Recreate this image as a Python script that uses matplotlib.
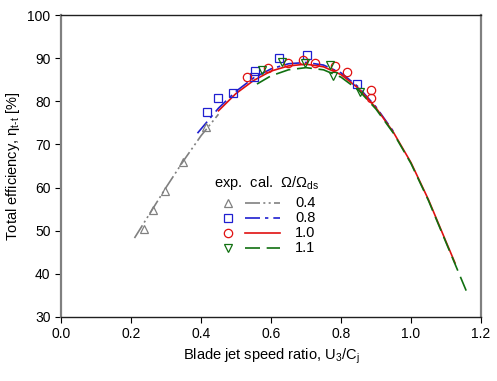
import matplotlib.pyplot as plt

plt.rcParams['font.family'] = ['Liberation Sans', 'DejaVu Sans']
plt.rcParams['mathtext.fontset'] = 'custom'
plt.rcParams['mathtext.rm'] = 'Liberation Sans'
plt.rcParams['mathtext.it'] = 'Liberation Sans'

## Experimental points
exp04_x = [0.237, 0.263, 0.297, 0.349, 0.414]
exp04_y = [50.4, 54.8, 59.2, 65.9, 74.0]

exp08_x = [0.417, 0.449, 0.491, 0.551, 0.554, 0.623, 0.703, 0.846]
exp08_y = [77.5, 80.8, 81.9, 85.6, 87.0, 90.0, 90.8, 84.0]

exp10_x = [0.531, 0.591, 0.649, 0.691, 0.726, 0.783, 0.817, 0.886, 0.886]
exp10_y = [85.6, 87.7, 88.9, 89.6, 88.9, 88.2, 86.8, 82.6, 80.8]

exp11_x = [0.574, 0.631, 0.697, 0.769, 0.777, 0.854]
exp11_y = [87.2, 89.1, 88.9, 88.4, 85.9, 82.2]

## Calculated curves
cal04_x = [0.21, 0.25, 0.30, 0.35, 0.40, 0.45]
cal04_y = [48.3, 53.5, 60.0, 66.2, 72.0, 77.0]

cal08_x = [0.39, 0.45, 0.50, 0.55, 0.60, 0.65, 0.70, 0.75, 0.80, 0.85, 0.90, 0.95]
cal08_y = [72.6, 78.4, 82.3, 85.4, 87.5, 88.7, 89.0, 88.4, 86.6, 83.3, 78.7, 73.0]

cal10_x = [0.45, 0.50, 0.55, 0.60, 0.65, 0.70, 0.75, 0.80, 0.85, 0.90, 0.95, 1.00, 1.05, 1.10, 1.126]
cal10_y = [77.8, 81.8, 84.8, 87.0, 88.2, 88.6, 88.0, 86.2, 83.0, 78.5, 72.8, 65.8, 57.2, 47.5, 42.5]

cal11_x = [0.56, 0.60, 0.65, 0.70, 0.75, 0.80, 0.85, 0.90, 0.95, 1.00, 1.05, 1.10, 1.163]
cal11_y = [84.0, 85.9, 87.3, 87.8, 87.3, 85.6, 82.6, 78.2, 72.6, 65.6, 57.0, 47.3, 35.1]

labels = ['0.4', '0.8', '1.0', '1.1']
colors = ['#808080', '#1f1fd0', '#e01010', '#107010']
markers = ['^', 's', 'o', 'v']
styles = [(0, (9, 2, 1.2, 2, 1.2, 2)), (0, (9, 3, 2, 3)), '-', (0, (9, 4))]

fig = plt.figure(figsize=(4.97, 3.81), dpi=100)
ax = fig.add_axes([0.1227, 0.168, 0.845, 0.7926])

exps = [(exp04_x, exp04_y), (exp08_x, exp08_y), (exp10_x, exp10_y), (exp11_x, exp11_y)]
cals = [(cal04_x, cal04_y), (cal08_x, cal08_y), (cal10_x, cal10_y), (cal11_x, cal11_y)]

for (cx, cy), c, ls in zip(cals, colors, styles):
    ax.plot(cx, cy, color=c, linestyle=ls, lw=1.2)
for (ex, ey), c, m in zip(exps, colors, markers):
    ax.plot(ex, ey, linestyle='none', marker=m, markersize=6, mfc='none', mec=c, mew=0.9)

# hand-made legend
ax.text(0.364, 0.444, r'exp.  cal.  $\Omega/\Omega_{\rm ds}$', transform=ax.transAxes,
        fontsize=10.5, va='center')
rows = [0.377, 0.328, 0.278, 0.228]
for yy, lab, c, m, ls in zip(rows, labels, colors, markers, styles):
    ax.plot([0.398], [yy], transform=ax.transAxes, marker=m, markersize=6,
            mfc='none', mec=c, mew=0.9, linestyle='none')
    ax.plot([0.438, 0.521], [yy, yy], transform=ax.transAxes, color=c,
            linestyle=ls, lw=1.2)
    ax.text(0.557, yy, lab, transform=ax.transAxes, fontsize=10.5, va='center')

ax.set_xlim(0, 1.2)
ax.set_ylim(30, 100)
ax.set_xticks([0.0, 0.2, 0.4, 0.6, 0.8, 1.0, 1.2])
ax.set_xticklabels(['0.0', '0.2', '0.4', '0.6', '0.8', '1.0', '1.2'])
ax.set_yticks(range(30, 101, 10))
ax.tick_params(direction='out', labelsize=10, length=4, width=0.8)
ax.set_xlabel(r'Blade jet speed ratio, U$_3$/C$_{\rm j}$', fontsize=10.5)
ax.set_ylabel(r'Total efficiency, $\eta_{\rm t\text{-}t}$ [%]', fontsize=10.5)

for s in ['left', 'right']:
    ax.spines[s].set_color('#808080')
    ax.spines[s].set_linewidth(1.6)
for s in ['top', 'bottom']:
    ax.spines[s].set_color('#202020')
    ax.spines[s].set_linewidth(1.0)

fig.savefig('out.png', dpi=100)
